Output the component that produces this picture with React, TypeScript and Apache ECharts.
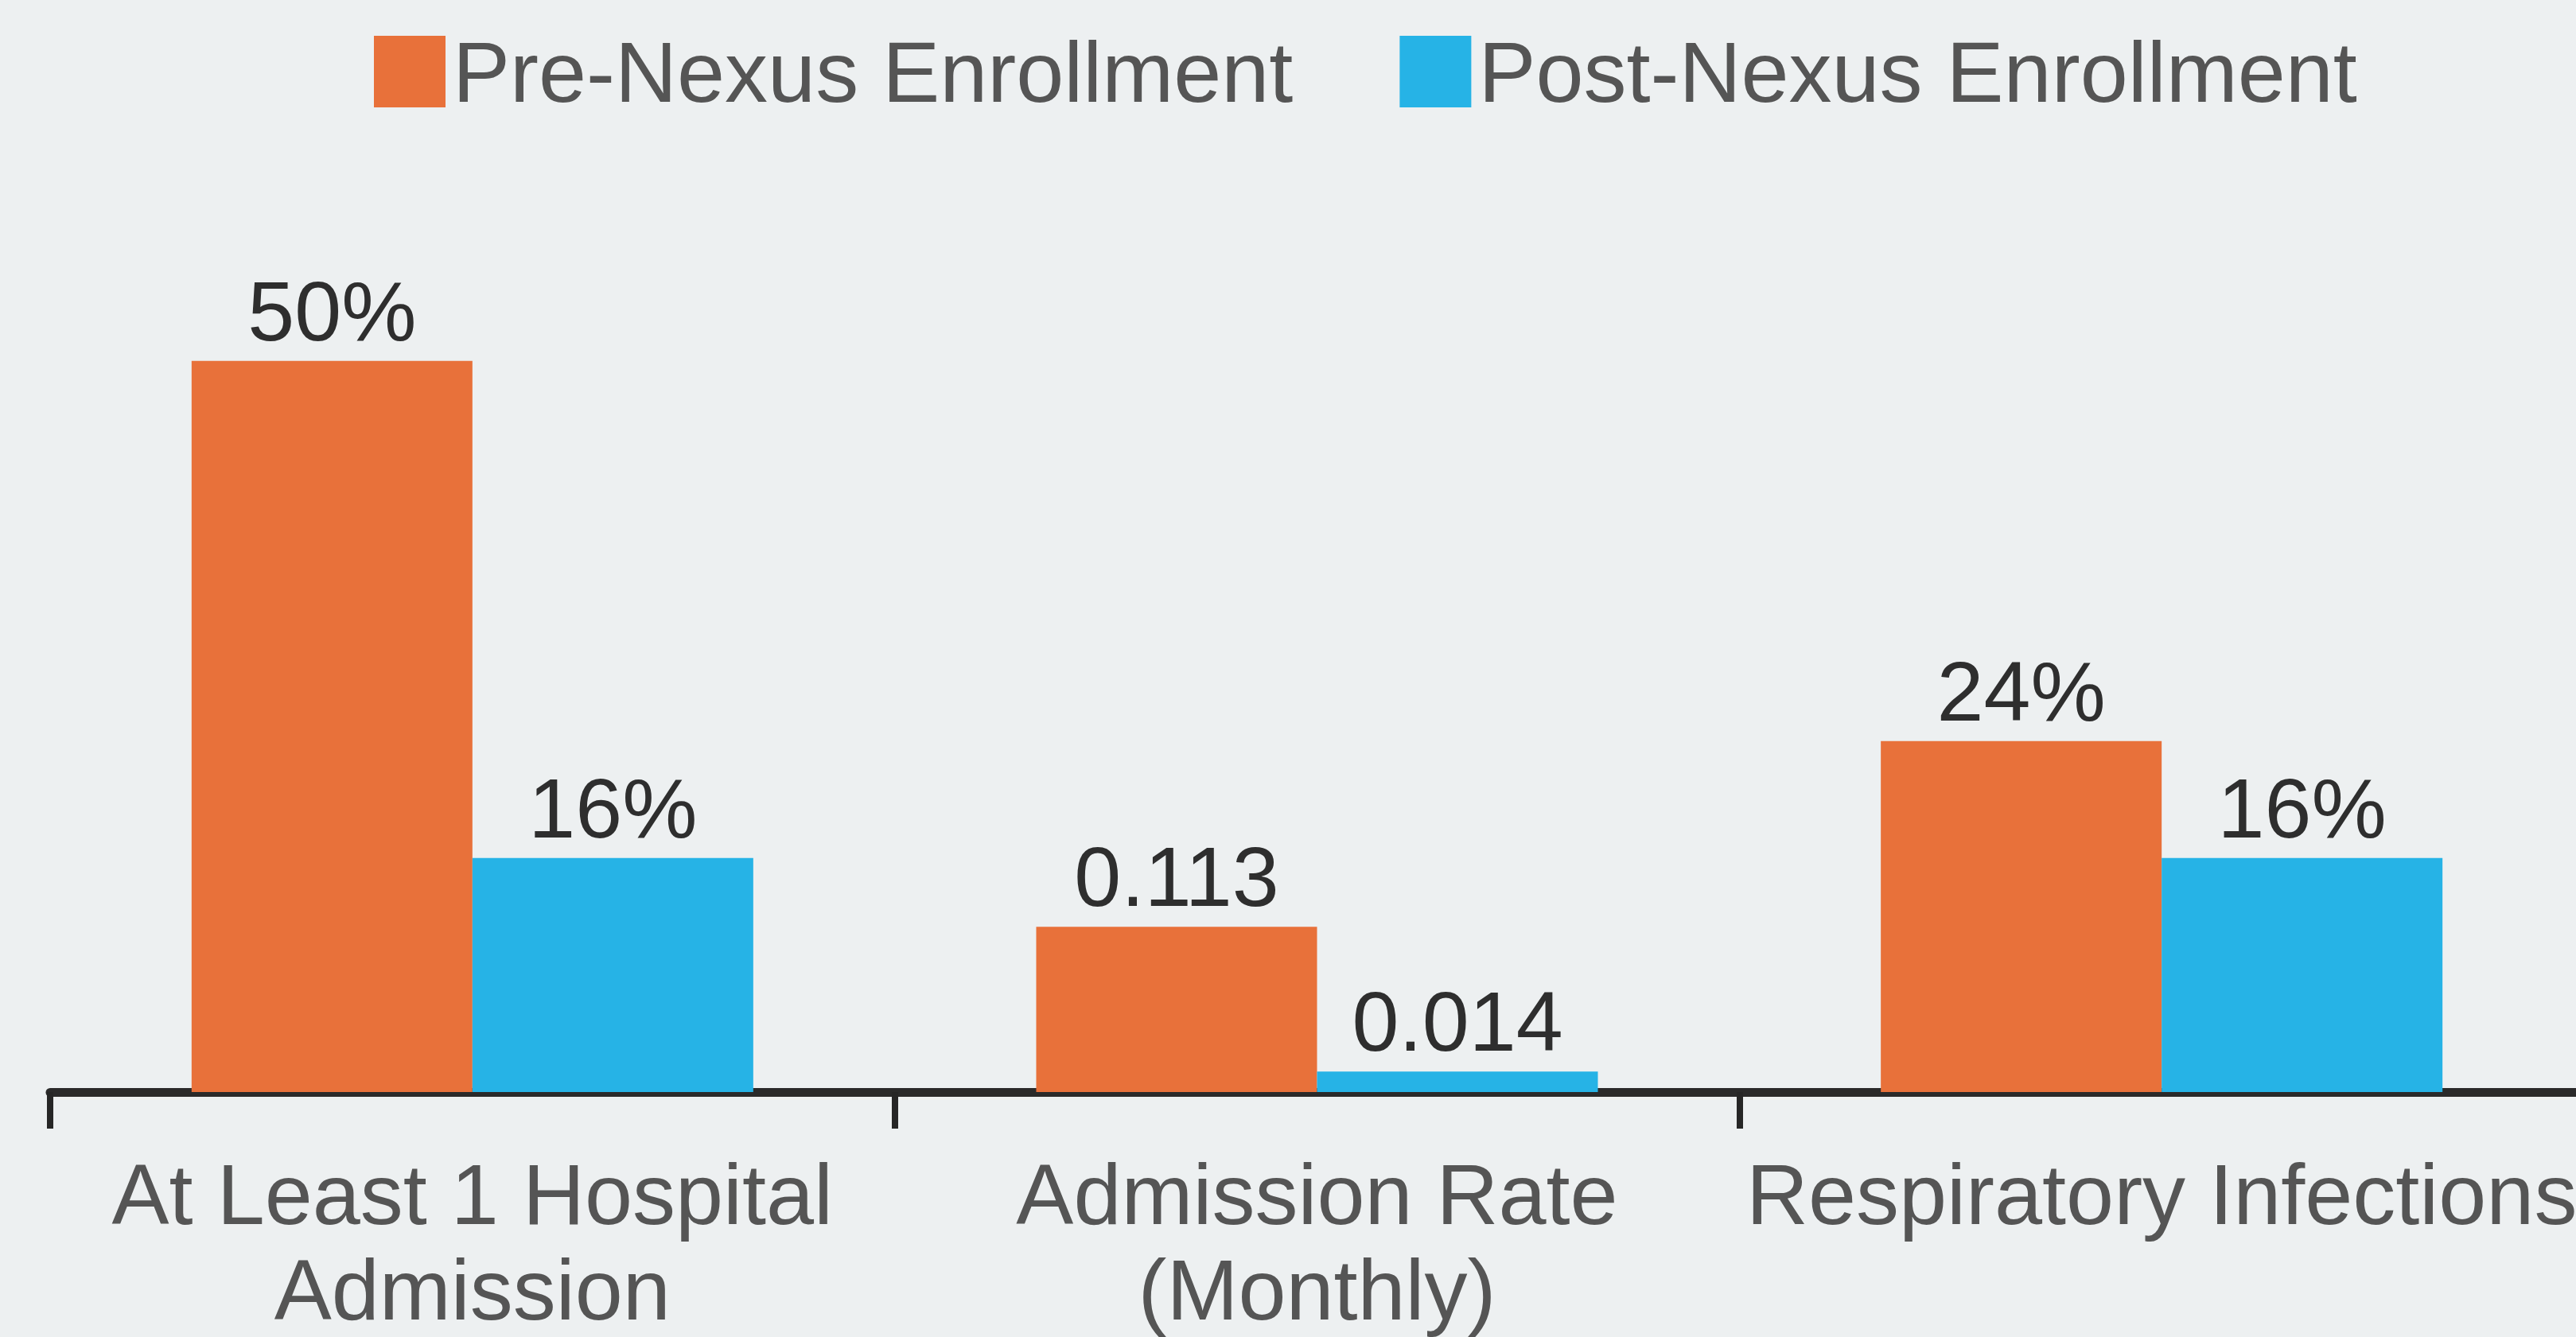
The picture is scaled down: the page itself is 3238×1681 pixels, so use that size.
import React, { useEffect, useRef } from "react";
import * as echarts from "echarts";

const categories = [
  "At Least 1 Hospital\nAdmission",
  "Admission Rate\n(Monthly)",
  "Respiratory Infections",
];
const seriesNames = ["Pre-Nexus Enrollment", "Post-Nexus Enrollment"];
const preValues = [50, 11.3, 24];
const postValues = [16, 1.4, 16];
const preLabels = ["50%", "0.113", "24%"];
const postLabels = ["16%", "0.014", "16%"];

const FONT = "'Liberation Sans', Arial, sans-serif";

export default function App() {
  const ref = useRef<HTMLDivElement>(null);
  useEffect(() => {
    document.body.style.margin = "0";
    document.body.style.overflow = "hidden";
    const chart = echarts.init(ref.current!, undefined, { renderer: "svg" });
    const labelStyle = {
      show: true,
      position: "top",
      distance: 10,
      color: "#2e2e2e",
      fontSize: 106,
      fontFamily: FONT,
    };
    chart.setOption({
      animation: false,
      backgroundColor: "#edf0f1",
      legend: {
        left: 465,
        top: 31,
        itemWidth: 90,
        itemHeight: 90,
        itemGap: 134,
        icon: "rect",
        textStyle: {
          fontSize: 108,
          color: "#555555",
          fontFamily: FONT,
          padding: [0, 0, 0, 4],
        },
        data: seriesNames,
      },
      grid: { left: 63, right: 2, top: 270, bottom: 307, containLabel: false },
      xAxis: {
        type: "category",
        data: categories,
        axisLine: { show: true, lineStyle: { color: "#2a2a2a", width: 11 } },
        axisTick: { show: true, length: 46, lineStyle: { color: "#262626", width: 8 } },
        axisLabel: {
          interval: 0,
          margin: 68,
          fontSize: 108,
          lineHeight: 120,
          color: "#555555",
          fontFamily: FONT,
        },
      },
      yAxis: {
        type: "value",
        min: 0,
        max: 60,
        show: false,
        splitLine: { show: false },
      },
      series: [
        {
          name: seriesNames[0],
          type: "bar",
          data: preValues,
          barGap: "0%",
          barCategoryGap: "33.5%",
          itemStyle: { color: "#e8713a" },
          label: { ...labelStyle, formatter: (p: any) => preLabels[p.dataIndex] },
        },
        {
          name: seriesNames[1],
          type: "bar",
          data: postValues,
          barGap: "0%",
          barCategoryGap: "33.5%",
          itemStyle: { color: "#26b3e6" },
          label: { ...labelStyle, formatter: (p: any) => postLabels[p.dataIndex] },
        },
      ],
    });
    return () => chart.dispose();
  }, []);
  return (
    <div style={{ width: 3238, height: 1681, overflow: "hidden" }}>
      <div ref={ref} style={{ width: 3250, height: 1681 }} />
    </div>
  );
}
